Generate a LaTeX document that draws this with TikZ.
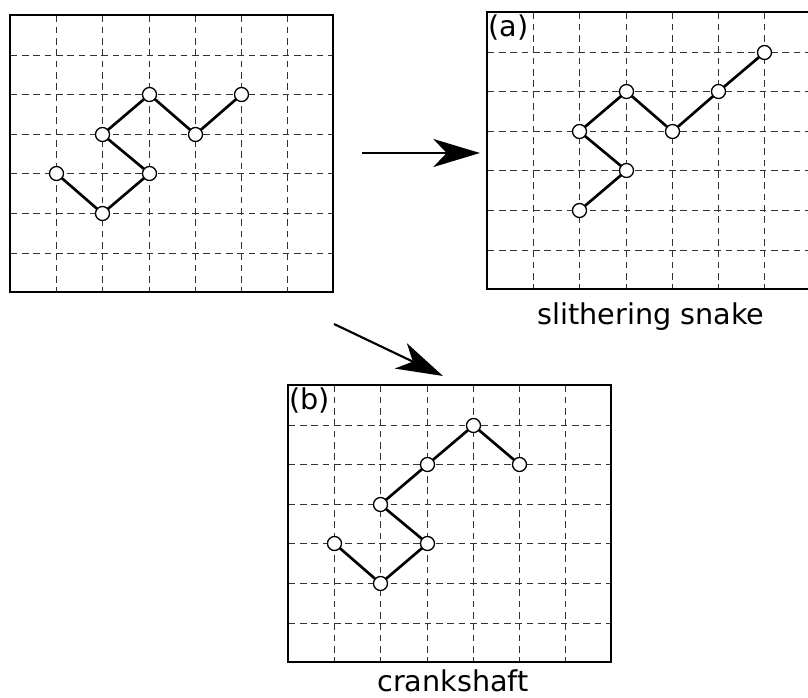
\documentclass[tikz,border=0pt]{standalone}
\usepackage{fontspec}
\setmainfont{DejaVu Sans}
\usetikzlibrary{arrows.meta}
\begin{document}
\begin{tikzpicture}[x=0.75pt,y=-0.75pt,
  frame/.style={draw=black,line width=1.1pt},
  gridline/.style={draw=black!80,line width=0.9pt,dash pattern=on 5pt off 3.5pt},
  bead/.style={circle,draw=black,fill=white,line width=1pt,minimum size=10.5pt,inner sep=0pt},
  bond/.style={line width=2pt},
  bigarrow/.style={line width=1.6pt,-{Stealth[length=35pt,width=21pt,inset=10pt]}},
  lbl/.style={font=\fontsize{21.5}{24}\selectfont,inner sep=0pt},
]
\useasboundingbox (0,0) rectangle (808,698);
% ---------- panel: original ----------
\begin{scope}[shift={(10,15)}]
  \foreach \i in {0,...,7} \foreach \j in {0,...,7}
    \coordinate (o\i\j) at ({round(\i*46.2)+0.5},{round(\j*39.6)+0.5});
  \foreach \i in {1,...,6} \draw[gridline] (o\i0) -- (o\i7);
  \foreach \j in {1,...,6} \draw[gridline] (o0\j) -- (o7\j);
  \draw[frame] (0,0) rectangle (323,277);
  \draw[bond] (o14) -- (o25) -- (o34) -- (o23) -- (o32) -- (o43) -- (o52);
  \foreach \p in {14,25,34,23,32,43,52} \node[bead] (ob\p) at (o\p) {};
\end{scope}
% ---------- panel (a) ----------
\begin{scope}[shift={(487,12)}]
  \foreach \i in {0,...,7} \foreach \j in {0,...,7}
    \coordinate (a\i\j) at ({round(\i*46.2)+0.5},{round(\j*39.6)+0.5});
  \foreach \i in {1,...,6} \draw[gridline] (a\i0) -- (a\i7);
  \foreach \j in {1,...,6} \draw[gridline] (a0\j) -- (a7\j);
  \draw[frame] (0,0) rectangle (323,277);
  \draw[bond] (a25) -- (a34) -- (a23) -- (a32) -- (a43) -- (a52) -- (a61);
  \foreach \p in {25,34,23,32,43,52,61} \node[bead] (ab\p) at (a\p) {};
  \node[lbl,anchor=north west] (la) at (1,2.5) {(a)};
\end{scope}
% ---------- panel (b) ----------
\begin{scope}[shift={(288,385)}]
  \foreach \i in {0,...,7} \foreach \j in {0,...,7}
    \coordinate (b\i\j) at ({round(\i*46.2)+0.5},{round(\j*39.6)+0.5});
  \foreach \i in {1,...,6} \draw[gridline] (b\i0) -- (b\i7);
  \foreach \j in {1,...,6} \draw[gridline] (b0\j) -- (b7\j);
  \draw[frame] (0,0) rectangle (323,277);
  \draw[bond] (b14) -- (b25) -- (b34) -- (b23) -- (b32) -- (b41) -- (b52);
  \foreach \p in {14,25,34,23,32,41,52} \node[bead] (bb\p) at (b\p) {};
  \node[lbl,anchor=north west] (lb) at (1,2.5) {(b)};
\end{scope}
% ---------- arrows ----------
\coordinate (s1) at (362,153);
\coordinate (t1) at (480,153);
\draw[bigarrow] (s1) -- (t1);
\coordinate (s2) at (334,324);
\coordinate (t2) at (443,376);
\draw[bigarrow] (s2) -- (t2);
% ---------- captions ----------
\node[lbl,anchor=base] (lsnake) at (651,325) {slithering snake};
\node[lbl,anchor=base] (lcrank) at (453,692) {crankshaft};
\end{tikzpicture}
\end{document}
